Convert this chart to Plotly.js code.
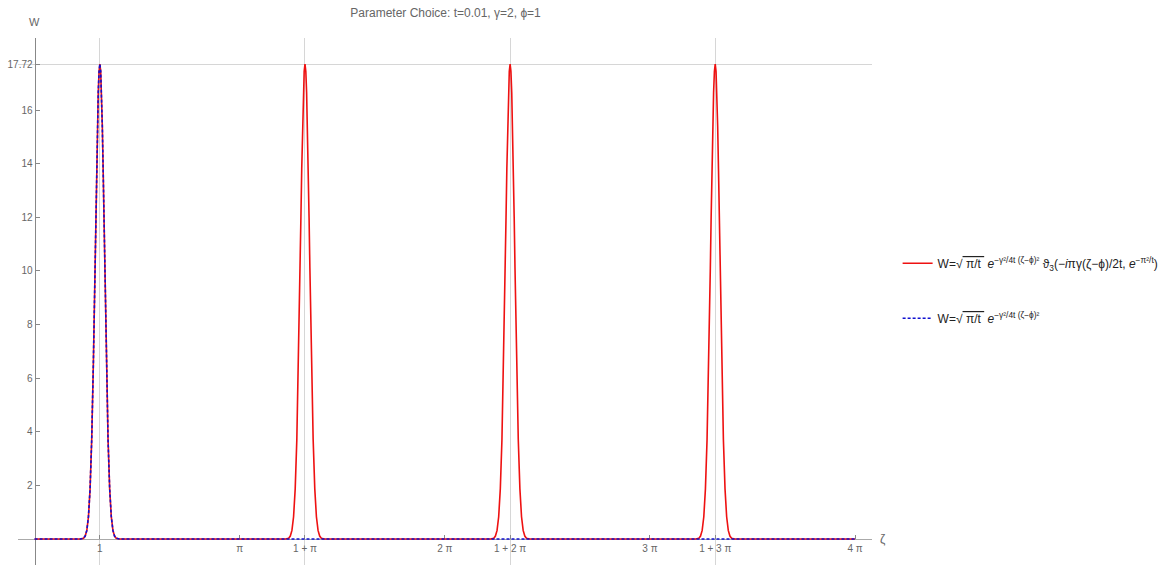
<!DOCTYPE html>
<html>
<head>
<meta charset="utf-8">
<script src="https://cdn.plot.ly/plotly-3.0.1.min.js"></script>
<style>html,body{margin:0;padding:0;background:#fff;}</style>
</head>
<body>
<div id="chart" style="width:1167px;height:567px;"></div>
<script>
// ---- data ----
const zetaStart = 0;
const zetaEnd = 12.566;                       // 4π
const peakCenters = [1, 4.1416, 7.2832, 10.4248]; // 1, 1+π, 1+2π, 1+3π
const peakOffsets = [-0.3, -0.25, -0.225, -0.2, -0.175, -0.15, -0.125, -0.1, -0.075, -0.0625, -0.05, -0.0375, -0.025, -0.0125, 0,
                     0.0125, 0.025, 0.0375, 0.05, 0.0625, 0.075, 0.1, 0.125, 0.15, 0.175, 0.2, 0.225, 0.25, 0.3];
const peakHeights = [0, 0.03, 0.11, 0.32, 0.83, 1.87, 3.71, 6.52, 10.10, 11.99, 13.80, 15.40, 16.65, 17.45, 17.72,
                     17.45, 16.65, 15.40, 13.80, 11.99, 10.10, 6.52, 3.71, 1.87, 0.83, 0.32, 0.11, 0.03, 0];
const xTickVals = [1, 3.14159, 4.14159, 6.28319, 7.28319, 9.42478, 10.42478, 12.56637];
const xTickText = ['1', 'π', '1 + π', '2 π', '1 + 2 π', '3 π', '1 + 3 π', '4 π'];
const yTickVals = [2, 4, 6, 8, 10, 12, 14, 16, 17.72];
const yTickText = ['2', '4', '6', '8', '10', '12', '14', '16', '17.72'];
const xGridVals = [1, 4.14159, 7.28319, 10.42478];
const yGridVals = [17.72];

// ---- build the series tables ----
function buildSeries(centers) {
  const xs = [zetaStart], ys = [0];
  centers.forEach(c => {
    peakOffsets.forEach((d, i) => { xs.push(c + d); ys.push(peakHeights[i]); });
  });
  xs.push(zetaEnd); ys.push(0);
  return {xs, ys};
}
const thetaSeries = buildSeries(peakCenters);
const gaussSeries = buildSeries(peakCenters.slice(0, 1));

const fontFam = 'Liberation Sans, Arial, sans-serif';

const traces = [
  {
    x: thetaSeries.xs, y: thetaSeries.ys, type: 'scatter', mode: 'lines',
    line: {color: '#ee1111', width: 1.6},
    legendgroup: 'a',
    name: 'W=√<span style="text-decoration:overline"> π/t </span> <i>e</i><sup>−γ²/4t (ζ−ϕ)²</sup> ϑ<sub>3</sub>(−<i>i</i>πγ(ζ−ϕ)/2t, <i>e</i><sup>−π²/t</sup>)'
  },
  {
    x: gaussSeries.xs, y: gaussSeries.ys, type: 'scatter', mode: 'lines',
    line: {color: '#1010d0', width: 1.6, dash: '3px,2px'},
    legendgroup: 'b',
    name: 'W=√<span style="text-decoration:overline"> π/t </span> <i>e</i><sup>−γ²/4t (ζ−ϕ)²</sup>'
  }
];

const layout = {
  width: 1167, height: 567,
  margin: {l: 18, r: 295, t: 38, b: 2, pad: 0, autoexpand: false},
  paper_bgcolor: '#fff', plot_bgcolor: '#fff',
  font: {family: fontFam, size: 10, color: '#666'},
  title: {
    text: 'Parameter Choice: t=0.01, γ=2, ϕ=1',
    font: {family: fontFam, size: 12, color: '#666'},
    x: 0.3818, xanchor: 'center', xref: 'container',
    y: 1 - 13/567, yanchor: 'middle', yref: 'container'
  },
  showlegend: true,
  legend: {
    x: 1.03, xanchor: 'left', y: 0.60, yanchor: 'top',
    font: {family: fontFam, size: 12, color: '#222'},
    traceorder: 'grouped', tracegroupgap: 36,
    itemwidth: 30, bgcolor: 'rgba(0,0,0,0)'
  },
  xaxis: {
    range: [-0.254, 12.826],
    anchor: 'free', position: 0.0493,
    showline: true, linecolor: '#aaa', linewidth: 1,
    zeroline: false, showgrid: false,
    ticks: 'inside', ticklen: 4, tickwidth: 1, tickcolor: '#888',
    tickmode: 'array', tickvals: xTickVals, ticktext: xTickText,
    tickfont: {family: fontFam, size: 10, color: '#666'},
    layer: 'below traces', automargin: false,
    minor: {tickmode: 'array', tickvals: xGridVals, showgrid: true, gridcolor: '#d6d6d6', gridwidth: 1, ticks: ''}
  },
  yaxis: {
    range: [-0.97, 18.69],
    anchor: 'free', position: 0.0194,
    showline: true, linecolor: '#888', linewidth: 1,
    zeroline: false, showgrid: false,
    ticks: 'inside', ticklen: 4, tickwidth: 1, tickcolor: '#888',
    tickmode: 'array', tickvals: yTickVals, ticktext: yTickText,
    tickfont: {family: fontFam, size: 10, color: '#666'},
    layer: 'below traces', automargin: false,
    minor: {tickmode: 'array', tickvals: yGridVals, showgrid: true, gridcolor: '#d6d6d6', gridwidth: 1, ticks: ''}
  },
  annotations: [
    {text: 'W', xref: 'paper', yref: 'paper', x: 0.0199, y: 1.030, xanchor: 'center', yanchor: 'middle',
     showarrow: false, font: {family: fontFam, size: 11, color: '#666'}},
    {text: 'ζ', xref: 'paper', yref: 'paper', x: 1.0126, y: 0.0493, xanchor: 'center', yanchor: 'middle',
     showarrow: false, font: {family: fontFam, size: 12, color: '#666'}}
  ]
};

Plotly.newPlot('chart', traces, layout, {displayModeBar: false, staticPlot: true});
</script>
</body>
</html>
